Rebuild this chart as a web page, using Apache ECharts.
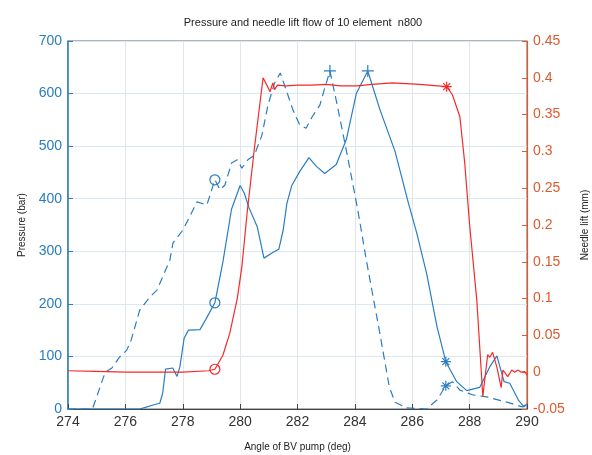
<!DOCTYPE html>
<html>
<head>
<meta charset="utf-8">
<script src="https://cdn.jsdelivr.net/npm/echarts@6/dist/echarts.min.js"></script>
<style>
  html, body { margin: 0; padding: 0; background: #fff; }
  #chart { width: 592px; height: 455px; }
</style>
</head>
<body>
<div id="chart"></div>
<script>
// angle (deg) / pressure (bar), solid curve
const pressureSolid = [
  [274, 0], [276.5, 0], [276.7, 3], [277.0, 8], [277.2, 11], [277.3, 30], [277.4, 76],
  [277.65, 78], [277.8, 62], [277.9, 80], [278.05, 135], [278.2, 150], [278.6, 151],
  [278.8, 170], [279.12, 202], [279.4, 280], [279.7, 380], [280.0, 425], [280.15, 410],
  [280.3, 384], [280.6, 346], [280.83, 287], [281.15, 298], [281.35, 304], [281.5, 340],
  [281.63, 391], [281.8, 425], [282.08, 452], [282.4, 478], [282.65, 462], [282.95, 448],
  [283.35, 465], [283.7, 512], [284.05, 600], [284.45, 643], [284.87, 570], [285.4, 490],
  [285.85, 395], [286.16, 334], [286.5, 258], [286.86, 157], [287.17, 90], [287.55, 52],
  [287.9, 35], [288.35, 41], [288.7, 80], [288.95, 101], [289.2, 52], [289.4, 49],
  [289.7, 17], [289.9, 4], [290, 10]
];

// angle (deg) / pressure (bar), dashed curve
const pressureDashed = [
  [274, 0], [274.85, 0], [275.0, 23], [275.2, 55], [275.3, 70], [275.53, 78], [275.8, 99],
  [276.05, 112], [276.2, 131], [276.5, 188], [276.85, 213], [277.1, 226], [277.55, 283],
  [277.66, 316], [278.0, 340], [278.5, 394], [278.84, 388], [279.12, 436], [279.3, 417],
  [279.47, 426], [279.7, 468], [279.9, 474], [280.06, 458], [280.27, 474], [280.5, 483],
  [280.76, 521], [280.97, 578], [281.2, 620], [281.4, 639], [281.63, 603], [281.84, 569],
  [282.08, 540], [282.3, 534], [282.5, 555], [282.78, 578], [282.9, 601], [283.13, 643],
  [283.37, 582], [283.72, 487], [284.1, 379], [284.4, 283], [284.87, 144], [285.2, 42],
  [285.4, 13], [285.8, 2], [286.5, 0], [286.86, 17], [287.17, 44], [287.4, 52],
  [287.66, 36], [288.1, 27], [288.6, 23], [289.3, 13], [289.85, 4], [290, 10]
];

// angle (deg) / needle lift (mm)
const needleLift = [
  [274, 0.002], [275, 0.001], [276, 0], [277, 0], [278, 0], [278.9, 0.002], [279.12, 0.004],
  [279.4, 0.023], [279.64, 0.053], [279.9, 0.1], [280.06, 0.143], [280.24, 0.215],
  [280.5, 0.305], [280.8, 0.4], [280.97, 0.387], [281.04, 0.381], [281.14, 0.393],
  [281.2, 0.384], [281.3, 0.39], [281.6, 0.389], [282, 0.39], [282.5, 0.39], [283, 0.391],
  [283.5, 0.389], [284.07, 0.389], [284.6, 0.391], [285.3, 0.393], [286.26, 0.391],
  [287.2, 0.388], [287.4, 0.377], [287.66, 0.347], [287.83, 0.284], [288.0, 0.2],
  [288.25, 0.098], [288.46, -0.033], [288.63, 0.024], [288.7, 0.02], [288.8, 0.027],
  [288.95, 0.007], [289.1, -0.021], [289.16, 0.003], [289.33, -0.006], [289.47, 0.003],
  [289.57, 0], [289.68, 0.003], [289.8, 0], [289.92, 0.001], [290, -0.004]
];

// marker points on each curve and their shapes
const solidMarks = [[279.12, 202], [284.45, 643], [287.17, 90]];
const dashedMarks = [[279.12, 436], [283.13, 643], [287.17, 44]];
const liftMarks = [[279.12, 0.004], [287.2, 0.388]];
const solidShapes = ['circle', 'plus', 'star'];
const dashedShapes = ['circle', 'plus', 'star'];
const liftShapes = ['circle', 'star'];

const blue = '#2a7dc2';
const red = '#f42a2a';
const orange = '#dc5a2e';

const shapePaths = {
  circle: 'circle',
  plus: 'path://M5,0L5,10M0,5L10,5',
  star: 'path://M5,0L5,10M0,5L10,5M1.5,1.5L8.5,8.5M8.5,1.5L1.5,8.5'
};

const markerSeries = function (points, shapes, color, axisIndex) {
  return {
    type: 'scatter',
    yAxisIndex: axisIndex,
    z: 5,
    silent: true,
    data: points.map(function (p, i) {
      const s = shapes[i];
      return {
        value: p,
        symbol: shapePaths[s],
        symbolSize: s === 'plus' ? 12 : 10,
        itemStyle: {
          color: 'rgba(0,0,0,0)',
          borderColor: color,
          borderWidth: 1.2,
          opacity: 1
        }
      };
    })
  };
};

const chart = echarts.init(document.getElementById('chart'));

const option = {
  backgroundColor: '#fff',
  animation: false,
  textStyle: { fontFamily: 'Liberation Sans' },
  title: {
    text: 'Pressure and needle lift flow of 10 element  n800',
    left: 298,
    top: 12,
    textAlign: 'center',
    textStyle: { fontSize: 11, fontWeight: 'normal', color: '#222' }
  },
  grid: {
    left: 68,
    right: 65,
    top: 41,
    bottom: 46,
    outerBoundsMode: 'none',
    containLabel: false,
    show: true,
    borderColor: '#666',
    borderWidth: 1
  },
  xAxis: {
    type: 'value',
    min: 274,
    max: 290,
    interval: 2,
    name: 'Angle of BV pump (deg)',
    nameLocation: 'middle',
    nameGap: 33,
    nameTextStyle: { fontSize: 10, color: '#222' },
    axisLine: { lineStyle: { color: '#444' } },
    axisTick: { inside: true, length: 5, lineStyle: { color: '#444' } },
    axisLabel: { fontSize: 14, color: '#333', margin: 6 },
    splitLine: { show: true, lineStyle: { color: '#e1e6ea' } }
  },
  yAxis: [
    {
      type: 'value',
      min: 0,
      max: 700,
      interval: 100,
      name: 'Pressure (bar)',
      nameLocation: 'middle',
      nameGap: 41,
      nameRotate: 90,
      nameTextStyle: { fontSize: 10, color: '#222' },
      axisLine: { show: true, lineStyle: { color: blue, width: 1.5 } },
      axisTick: { show: true, inside: true, length: 5, lineStyle: { color: blue } },
      axisLabel: { fontSize: 14, color: blue, margin: 6 },
      splitLine: { show: true, lineStyle: { color: '#dce9f3' } }
    },
    {
      type: 'value',
      min: -0.05,
      max: 0.45,
      interval: 0.05,
      position: 'right',
      name: 'Needle lift (mm)',
      nameLocation: 'middle',
      nameGap: 53,
      nameRotate: 90,
      nameTextStyle: { fontSize: 10, color: '#222' },
      axisLine: { show: true, lineStyle: { color: orange, width: 1.2 } },
      axisTick: { show: true, inside: true, length: 5, lineStyle: { color: orange } },
      axisLabel: {
        fontSize: 14,
        color: orange,
        margin: 6,
        formatter: function (v) {
          return String(parseFloat(v.toFixed(2)));
        }
      },
      splitLine: { show: false }
    }
  ],
  series: [
    {
      type: 'line',
      yAxisIndex: 0,
      data: pressureSolid,
      showSymbol: false,
      lineStyle: { color: blue, width: 1.2 }
    },
    {
      type: 'line',
      yAxisIndex: 0,
      data: pressureDashed,
      showSymbol: false,
      lineStyle: { color: blue, width: 1.2, type: [8, 5] }
    },
    {
      type: 'line',
      yAxisIndex: 1,
      data: needleLift,
      showSymbol: false,
      lineStyle: { color: red, width: 1.2 }
    },
    markerSeries(solidMarks, solidShapes, blue, 0),
    markerSeries(dashedMarks, dashedShapes, blue, 0),
    markerSeries(liftMarks, liftShapes, red, 1)
  ]
};

chart.setOption(option);
</script>
</body>
</html>
